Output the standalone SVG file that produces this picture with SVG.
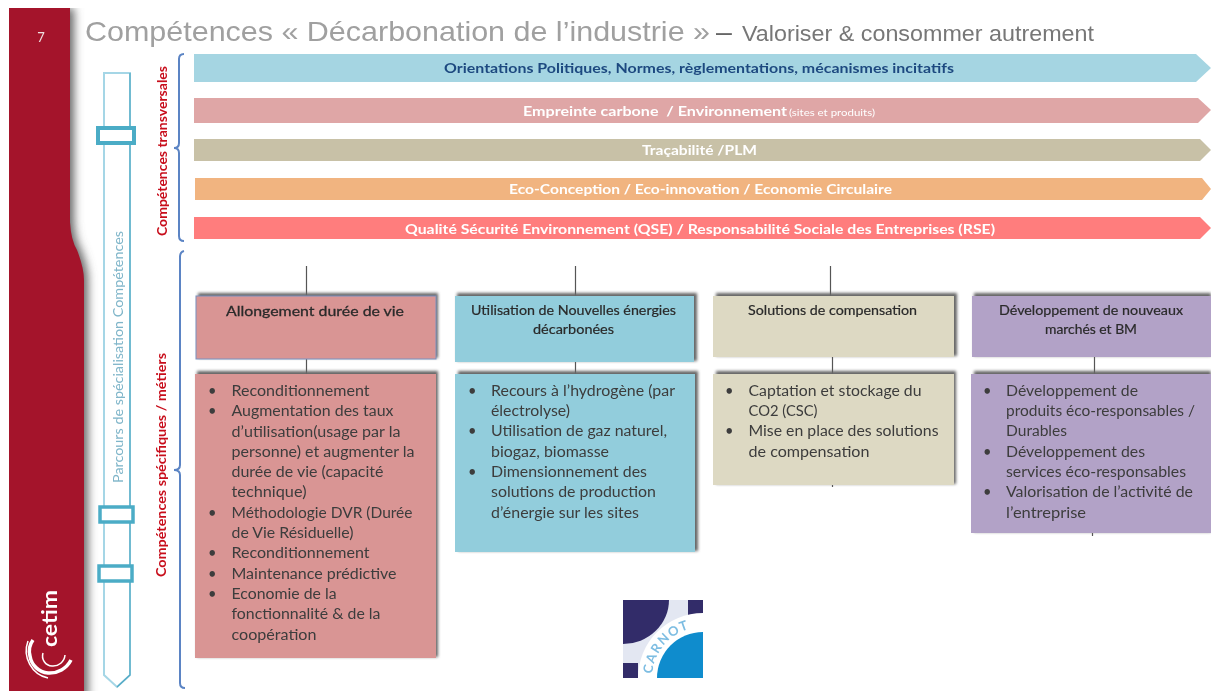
<svg xmlns="http://www.w3.org/2000/svg" width="1211" height="691" viewBox="0 0 1211 691">
<style>
text{font-family:"Lato","Open Sans","Liberation Sans",sans-serif}
.t{font-family:"Liberation Sans",sans-serif;fill:#8c8c8c}
.band{font-size:14px;font-weight:700;fill:#fff}
.hd{font-size:12.5px;fill:#2a2a2a;stroke:#2a2a2a;stroke-width:.2}
.li{font-size:14.6px;fill:#3c3c3c}
.v{font-size:12.5px;font-weight:700;fill:#c8101c}
.brace{fill:none;stroke:#5b84c4;stroke-width:2}
.tick{stroke:#555;stroke-width:1.2}
.slide{fill:#fff;stroke:#4bacc6;stroke-width:3.5}
.sd{fill:#666}
</style>
<defs>
<filter id="sh" x="-5%" y="-10%" width="110%" height="120%"><feGaussianBlur stdDeviation="1.6"/></filter>
<filter id="sb" x="-60%" y="-5%" width="220%" height="110%"><feGaussianBlur stdDeviation="5"/></filter>
<filter id="b" x="-5%" y="-20%" width="110%" height="140%"><feGaussianBlur stdDeviation="0.55"/></filter>
<path id="carc" d="M652 678A51 51 0 0 1 703 627"/>
</defs>
<g id="sidebar">
<path d="M45 8H74V222Q75 240 81 250Q88 268 88 280V700H45Z" fill="#666" filter="url(#sb)"/>
<rect x="0" y="0" width="110" height="8" fill="#fff"/>
<path d="M9 8H70V222Q71 240 77 250Q84 268 84 280V691H9Z" fill="#a4142b"/>
<text x="41" y="42" font-size="13" fill="#f0e0e0" text-anchor="middle" filter="url(#b)">7</text>
<g id="cetim-logo" fill="none" stroke="#fff" filter="url(#b)">
<path d="M33 640A19 19 0 0 0 30 656A20 20 0 0 0 48 673A24 24 0 0 0 71 660" stroke-width="3.5"/>
<path d="M28 641A28 28 0 0 0 48 678" stroke-width="1.5"/>
<path d="M43 653A10 10 0 0 0 52 666A12 12 0 0 0 65 655" stroke-width="1.5"/>
<text transform="translate(57 647) rotate(-90)" font-size="21" font-weight="700" fill="#fff" stroke="none" textLength="57" lengthAdjust="spacingAndGlyphs">cetim</text>
</g>
</g>
<g id="title" filter="url(#b)">
<text class="t" x="85" y="41" font-size="28.5" style="fill:#a0a0a0" textLength="625" lengthAdjust="spacingAndGlyphs">Compétences « Décarbonation de l’industrie »</text>
<text class="t" x="716" y="41" font-size="28.500" style="fill:#666">–</text>
<text class="t" x="742" y="41" font-size="21.5" style="fill:#777" textLength="352" lengthAdjust="spacingAndGlyphs">Valoriser &amp; consommer autrement</text>
</g>
<g id="parcours">
<path d="M104 73H130V675L117 687L104 675Z" fill="#fff" stroke="#a5d6e6" stroke-width="2"/>
<path d="M130 73V675L117 687" fill="none" stroke="#4fa8c4" stroke-width="1.2"/>
<rect class="slide" x="98" y="128" width="36" height="15" style="stroke-width:4"/>
<rect class="slide" x="100" y="507" width="33" height="15"/>
<rect class="slide" x="99" y="566" width="33" height="15"/>
<text transform="translate(123 483) rotate(-90)" font-size="13" fill="#7fb5c9" textLength="252" lengthAdjust="spacingAndGlyphs" filter="url(#b)">Parcours de spécialisation Compétences</text>
</g>
<g id="connectors">
<path class="brace" d="M184 54Q179 54 179 59V143Q179 148 174 148Q179 148 179 153V236Q179 241 184 241"/>
<path class="brace" d="M184 251Q180 252 180 257V465Q180 470 174 470Q180 470 180 475V683Q180 688 185 688"/>
<path class="tick" d="M306.500 266V296M306.500 359V374M575.500 266V296M575.500 362V374M830.500 266V296M832.500 357V374M1094.500 357V374M832.500 485V487M1092.500 533V536"/>
</g>
<g id="labels-vert" filter="url(#b)">
<text class="v" transform="translate(167 236) rotate(-90)" textLength="170" lengthAdjust="spacingAndGlyphs">Compétences transversales</text>
<text class="v" transform="translate(166 577) rotate(-90)" textLength="224" lengthAdjust="spacingAndGlyphs">Compétences spécifiques / métiers</text>
</g>
<g id="band1"><path d="M194 54H1196L1211 68L1196 82H194Z" fill="#a5d5e2"/><text class="band" x="444" y="73" style="fill:#1f4a80" textLength="510" lengthAdjust="spacingAndGlyphs" filter="url(#b)">Orientations Politiques, Normes, règlementations, mécanismes incitatifs</text></g>
<g id="band2"><path d="M194 98H1198L1211 110L1198 123H194Z" fill="#dfa6a6"/><g filter="url(#b)"><text class="band" x="523" y="116" xml:space="preserve" textLength="264" lengthAdjust="spacingAndGlyphs">Empreinte carbone  / Environnement</text><text x="789" y="116" font-size="9.500" fill="#fff" textLength="86" lengthAdjust="spacingAndGlyphs">(sites et produits)</text></g></g>
<g id="band3"><path d="M194 139H1200L1211 150L1200 161H194Z" fill="#c8c1a7"/><text class="band" x="642" y="155" textLength="115" lengthAdjust="spacingAndGlyphs" filter="url(#b)">Traçabilité /PLM</text></g>
<g id="band4"><path d="M195 178H1202L1211 189L1202 200H195Z" fill="#f1b480"/><text class="band" x="509" y="194" textLength="383" lengthAdjust="spacingAndGlyphs" filter="url(#b)">Eco-Conception / Eco-innovation / Economie Circulaire</text></g>
<g id="band5"><path d="M194 217H1200L1211 228L1200 239H194Z" fill="#ff7d7d"/><text class="band" x="405" y="234" textLength="590" lengthAdjust="spacingAndGlyphs" filter="url(#b)">Qualité Sécurité Environnement (QSE) / Responsabilité Sociale des Entreprises (RSE)</text></g>
<g id="n1-head"><rect class="sd" x="198" y="293" width="240" height="65" filter="url(#sh)"/><rect x="196" y="296" width="240" height="63" fill="#d99594" stroke="#7b91c0"/><text class="hd" x="226" y="316" style="font-size:14px;stroke-width:.3" textLength="178" lengthAdjust="spacingAndGlyphs" filter="url(#b)">Allongement durée de vie</text></g>
<g id="n2-head"><rect class="sd" x="457" y="293" width="240" height="68" filter="url(#sh)"/><rect x="455" y="296" width="239" height="66" fill="#92cddc"/><g filter="url(#b)"><text class="hd" x="471" y="315" textLength="205" lengthAdjust="spacingAndGlyphs">Utilisation de Nouvelles énergies</text><text class="hd" x="533" y="334" textLength="81" lengthAdjust="spacingAndGlyphs">décarbonées</text></g></g>
<g id="n3-head"><rect class="sd" x="716" y="293" width="241" height="63" filter="url(#sh)"/><rect x="713" y="296" width="241" height="61" fill="#ddd9c3"/><text class="hd" x="748" y="315" textLength="169" lengthAdjust="spacingAndGlyphs" filter="url(#b)">Solutions de compensation</text></g>
<g id="n4-head"><rect class="sd" x="974" y="293" width="237" height="63" filter="url(#sh)"/><rect x="972" y="296" width="239" height="61" fill="#b2a2c7"/><g filter="url(#b)"><text class="hd" x="999" y="315" textLength="184" lengthAdjust="spacingAndGlyphs">Développement de nouveaux</text><text class="hd" x="1045" y="334" textLength="92" lengthAdjust="spacingAndGlyphs">marchés et BM</text></g></g>
<g id="n1-list"><rect class="sd" x="197" y="371" width="241" height="286" filter="url(#sh)"/><rect x="195" y="374" width="241" height="284" fill="#d99594"/>
<g class="li" filter="url(#b)">
<text x="208" y="396">•</text><text x="231.500" y="396" textLength="138" lengthAdjust="spacingAndGlyphs">Reconditionnement</text>
<text x="208" y="416">•</text><text x="231.500" y="416" textLength="162" lengthAdjust="spacingAndGlyphs">Augmentation des taux</text>
<text x="231.500" y="437" textLength="169" lengthAdjust="spacingAndGlyphs">d’utilisation(usage par la</text>
<text x="231.500" y="457" textLength="183" lengthAdjust="spacingAndGlyphs">personne) et augmenter la</text>
<text x="231.500" y="477" textLength="152" lengthAdjust="spacingAndGlyphs">durée de vie (capacité</text>
<text x="231.500" y="497" textLength="75" lengthAdjust="spacingAndGlyphs">technique)</text>
<text x="208" y="518">•</text><text x="231.500" y="518" textLength="181" lengthAdjust="spacingAndGlyphs">Méthodologie DVR (Durée</text>
<text x="231.500" y="538" textLength="122" lengthAdjust="spacingAndGlyphs">de Vie Résiduelle)</text>
<text x="208" y="558">•</text><text x="231.500" y="558" textLength="138" lengthAdjust="spacingAndGlyphs">Reconditionnement</text>
<text x="208" y="579">•</text><text x="231.500" y="579" textLength="165" lengthAdjust="spacingAndGlyphs">Maintenance prédictive</text>
<text x="208" y="599">•</text><text x="231.500" y="599" textLength="105" lengthAdjust="spacingAndGlyphs">Economie de la</text>
<text x="231.500" y="619" textLength="149" lengthAdjust="spacingAndGlyphs">fonctionnalité &amp; de la</text>
<text x="231.500" y="640" textLength="85" lengthAdjust="spacingAndGlyphs">coopération</text>
</g></g>
<g id="n2-list"><rect class="sd" x="458" y="371" width="240" height="180" filter="url(#sh)"/><rect x="455" y="374" width="240" height="178" fill="#92cddc"/>
<g class="li" filter="url(#b)">
<text x="468" y="396">•</text><text x="491" y="396" textLength="184" lengthAdjust="spacingAndGlyphs">Recours à l’hydrogène (par</text>
<text x="491" y="416" textLength="79" lengthAdjust="spacingAndGlyphs">électrolyse)</text>
<text x="468" y="436">•</text><text x="491" y="436" textLength="176" lengthAdjust="spacingAndGlyphs">Utilisation de gaz naturel,</text>
<text x="491" y="457" textLength="118" lengthAdjust="spacingAndGlyphs">biogaz, biomasse</text>
<text x="468" y="477">•</text><text x="491" y="477" textLength="156" lengthAdjust="spacingAndGlyphs">Dimensionnement des</text>
<text x="491" y="497" textLength="165" lengthAdjust="spacingAndGlyphs">solutions de production</text>
<text x="491" y="518" textLength="148" lengthAdjust="spacingAndGlyphs">d’énergie sur les sites</text>
</g></g>
<g id="n3-list"><rect class="sd" x="716" y="371" width="240" height="113" filter="url(#sh)"/><rect x="713" y="374" width="241" height="111" fill="#ddd9c3"/>
<g class="li" filter="url(#b)">
<text x="725" y="396">•</text><text x="748.500" y="396" textLength="173" lengthAdjust="spacingAndGlyphs">Captation et stockage du</text>
<text x="748.500" y="416" textLength="69" lengthAdjust="spacingAndGlyphs">CO2 (CSC)</text>
<text x="725" y="436">•</text><text x="748.500" y="436" textLength="190" lengthAdjust="spacingAndGlyphs">Mise en place des solutions</text>
<text x="748.500" y="457" textLength="121" lengthAdjust="spacingAndGlyphs">de compensation</text>
</g></g>
<g id="n4-list"><rect class="sd" x="974" y="371" width="237" height="161" filter="url(#sh)"/><rect x="971" y="374" width="240" height="159" fill="#b2a2c7"/>
<g class="li" filter="url(#b)">
<text x="983" y="396">•</text><text x="1006" y="396" textLength="132" lengthAdjust="spacingAndGlyphs">Développement de</text>
<text x="1006" y="416" textLength="189" lengthAdjust="spacingAndGlyphs">produits éco-responsables /</text>
<text x="1006" y="436" textLength="61" lengthAdjust="spacingAndGlyphs">Durables</text>
<text x="983" y="457">•</text><text x="1006" y="457" textLength="139" lengthAdjust="spacingAndGlyphs">Développement des</text>
<text x="1006" y="477" textLength="180" lengthAdjust="spacingAndGlyphs">services éco-responsables</text>
<text x="983" y="497">•</text><text x="1006" y="497" textLength="187" lengthAdjust="spacingAndGlyphs">Valorisation de l’activité de</text>
<text x="1006" y="518" textLength="80" lengthAdjust="spacingAndGlyphs">l’entreprise</text>
</g></g>
<g id="carnot-logo">
<rect x="623" y="600" width="80" height="78" fill="#e3e7f2"/>
<path d="M623 600H669A46 44 0 0 1 623 644Z" fill="#322c69"/>
<rect x="688" y="600" width="15" height="15" fill="#322c69"/>
<rect x="623" y="663" width="15" height="15" fill="#322c69"/>
<path d="M638 678A65 65 0 0 1 703 613V678Z" fill="#fff"/>
<path d="M657 678A46 46 0 0 1 703 632V678Z" fill="#0f8ccd"/>
<text font-size="13" fill="#7dbde2" font-weight="700" letter-spacing="1.5" filter="url(#b)"><textPath href="#carc" startOffset="4">CARNOT</textPath></text>
</g>
</svg>
